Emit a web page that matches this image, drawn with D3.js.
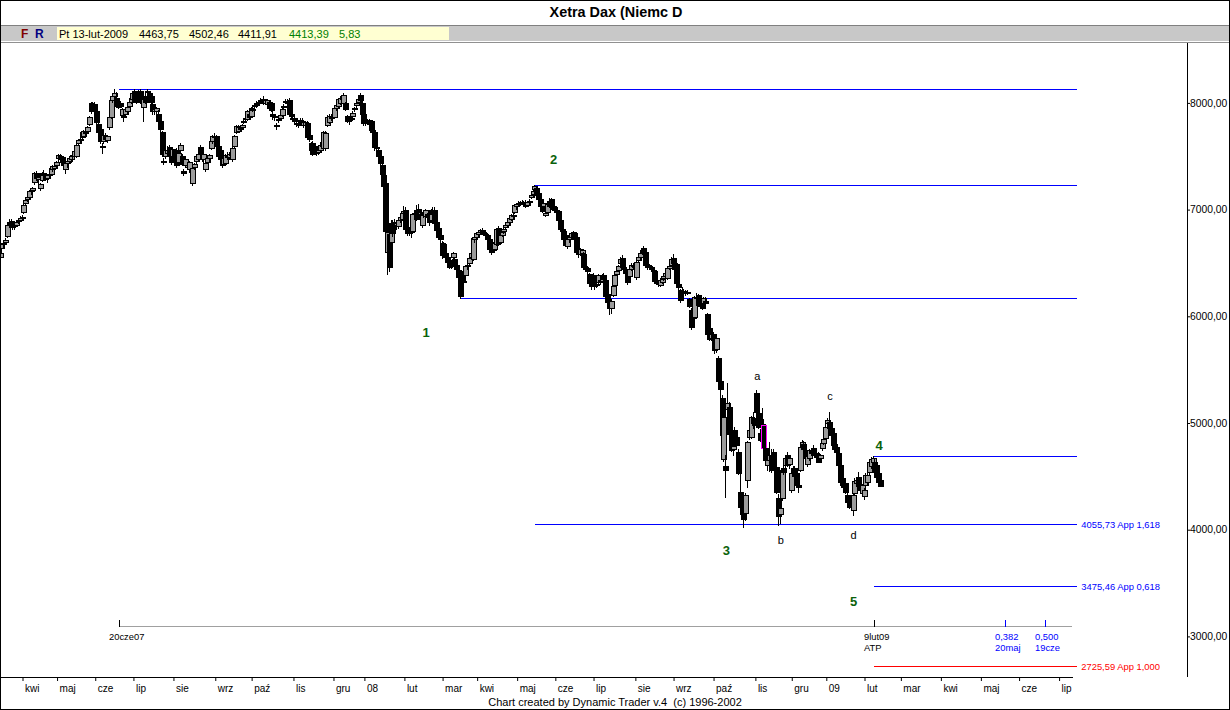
<!DOCTYPE html>
<html><head><meta charset="utf-8">
<script src="https://cdn.jsdelivr.net/npm/d3@7"></script>
<style>
html,body{margin:0;padding:0;background:#fff;}
svg{display:block;font-family:'Liberation Sans',Arial,sans-serif;}
</style></head><body>
<svg id="chart" width="1230" height="710"></svg>
<script>
// ---------- DATA (daily O,H,L,C) ----------
const mar07=[[6560,6610,6530,6590],[6640,6690,6600,6675],[6680,6700,6650,6690],[6700,6735,6680,6715],[6750,6870,6740,6860],[6880,6910,6840,6860],[6890,6910,6840,6850],[6870,6890,6820,6840],[6850,6880,6820,6860],[6860,6900,6850,6885],[6890,6920,6870,6905],[6905,6940,6890,6917]];
const apr07=[[6920,6945,6900,6935],[6975,7050,6965,7045],[7060,7100,7050,7090],[7100,7140,7080,7120],[7120,7180,7110,7170],[7170,7195,7150,7180],[7180,7210,7170,7200],[7255,7350,7240,7340],[7340,7360,7280,7300],[7290,7320,7250,7310],[7200,7250,7180,7240],[7280,7350,7270,7340],[7340,7370,7300,7320],[7330,7345,7280,7290],[7300,7330,7260,7320],[7320,7350,7300,7330],[7330,7400,7320,7390],[7380,7420,7360,7410],[7390,7430,7370,7408]];
const may07=[[7420,7460,7400,7450],[7480,7520,7460,7510],[7500,7520,7460,7470],[7490,7500,7440,7450],[7440,7460,7400,7420],[7380,7450,7340,7440],[7440,7470,7400,7460],[7460,7490,7450,7480],[7470,7510,7450,7500],[7500,7530,7480,7510],[7500,7560,7490,7550],[7500,7620,7490,7610],[7620,7660,7610,7650],[7650,7670,7620,7660],[7680,7740,7670,7730],[7690,7750,7680,7740],[7740,7760,7700,7720],[7735,7780,7720,7770],[7800,7880,7790,7870],[7920,8010,7910,7995],[7990,8010,7920,7930]];
const jun07=[[7990,8010,7900,7920],[7920,7930,7800,7820],[7800,7810,7700,7730],[7760,7780,7620,7640],[7600,7620,7530,7590],[7640,7710,7620,7700],[7690,7720,7650,7660],[7650,7700,7630,7690],[7770,7880,7760,7865],[7870,8040,7860,8030],[8030,8080,8010,8060],[8065,8130,8050,8095],[8050,8100,7960,7975],[8000,8020,7950,7960],[8000,8020,7960,7970],[7885,7950,7870,7940],[7880,7900,7830,7870],[7900,7950,7890,7940],[7920,7970,7910,7960],[7970,8020,7960,8010],[8010,8060,8000,8050]];
const jul07=[[8040,8100,8020,8090],[8110,8130,8010,8020],[8060,8100,8000,8010],[8100,8120,8030,8040],[8110,8130,8000,8010],[8010,8060,7990,8050],[7960,8060,7830,8040],[8060,8090,8000,8010],[8110,8132,8080,8100],[8090,8110,8030,8050],[8060,8070,8000,8010],[7990,8000,7900,7920],[7920,7960,7900,7940],[7920,7960,7900,7950],[7900,7930,7810,7830],[7830,7840,7740,7760],[7730,7740,7500,7520],[7450,7480,7430,7460],[7500,7580,7480,7560],[7530,7600,7520,7560],[7590,7610,7490,7500],[7510,7540,7430,7450]];
const aug07=[[7500,7580,7460,7570],[7560,7570,7430,7450],[7550,7580,7400,7420],[7450,7550,7440,7530],[7560,7620,7540,7610],[7500,7520,7420,7430],[7360,7380,7320,7340],[7420,7480,7400,7470],[7400,7440,7380,7420],[7380,7460,7360,7450],[7350,7380,7320,7360],[7250,7400,7230,7390],[7400,7440,7380,7430],[7460,7520,7440,7500],[7470,7540,7460,7520],[7590,7610,7520,7530],[7520,7540,7460,7480],[7470,7530,7450,7520],[7380,7450,7360,7440],[7450,7500,7440,7480],[7480,7520,7460,7510],[7580,7650,7570,7640],[7640,7700,7620,7690]];
const sep07=[[7690,7720,7660,7680],[7690,7700,7590,7600],[7600,7620,7480,7500],[7560,7600,7450,7470],[7480,7500,7400,7420],[7430,7500,7420,7480],[7440,7520,7430,7510],[7510,7540,7470,7490],[7490,7530,7470,7520],[7510,7550,7490,7540],[7470,7590,7460,7580],[7600,7700,7590,7690],[7730,7790,7720,7780],[7740,7790,7730,7775],[7770,7790,7750,7760],[7770,7800,7760,7790],[7820,7850,7810,7830],[7850,7880,7840,7860],[7850,7930,7840,7920],[7900,7940,7860,7870]];
const oct07=[[7880,7960,7870,7950],[7940,7960,7920,7935],[7980,8000,7960,7970],[8000,8020,7960,7980],[8010,8030,7990,8000],[8030,8050,8000,8010],[8020,8040,8000,8030],[8040,8060,7990,8000],[8000,8040,7990,8030],[7990,8040,7980,8030],[8010,8030,7940,7950],[8000,8010,7920,7930],[7900,7930,7850,7880],[7870,7900,7840,7880],[7790,7810,7760,7790],[7840,7870,7820,7850],[7860,7900,7850,7890],[7890,7950,7880,7940],[7960,7990,7940,7970],[8010,8040,8000,8020],[8020,8040,7990,8000],[8030,8050,7880,7900],[7900,7930,7860,7880]];
const nov07=[[7850,7880,7830,7860],[7860,7870,7810,7830],[7800,7830,7780,7810],[7790,7820,7770,7800],[7840,7860,7800,7810],[7830,7860,7800,7820],[7790,7830,7770,7820],[7790,7830,7770,7820],[7810,7830,7670,7680],[7700,7720,7640,7660],[7560,7630,7530,7620],[7620,7640,7510,7520],[7600,7620,7540,7550],[7590,7600,7510,7530],[7540,7580,7520,7560],[7560,7620,7550,7610],[7600,7640,7580,7630],[7580,7740,7570,7730],[7580,7740,7560,7720],[7790,7890,7780,7870],[7820,7900,7810,7880],[7870,7900,7840,7870]];
const dec07=[[7870,7900,7850,7880],[7870,7960,7860,7950],[7950,7990,7930,7980],[7970,8050,7960,8040],[8000,8060,7990,8050],[8040,8070,8010,8060],[8000,8090,7990,8075],[8000,8010,7930,7945],[7880,7890,7820,7830],[7840,7860,7800,7850],[7850,7880,7830,7860],[7880,7920,7860,7910],[7940,7960,7920,7950],[7980,8000,7960,7995],[8010,8050,8000,8040],[8070,8090,8020,8030],[8000,8020,7880,7900]];
const jan08=[[7900,7920,7790,7810],[7830,7860,7790,7820],[7830,7850,7800,7815],[7840,7850,7780,7800],[7830,7840,7730,7750],[7750,7760,7710,7730],[7730,7740,7560,7590],[7590,7610,7560,7580],[7560,7570,7480,7500],[7500,7510,7430,7440],[7420,7430,7320,7330],[7320,7330,7200,7220],[7250,7300,6780,6800],[6600,6800,6400,6790],[6770,6800,6420,6460],[6700,6900,6650,6870],[6870,6900,6750,6780],[6880,6910,6840,6860],[6860,6890,6820,6870],[6850,6920,6830,6900],[6900,6950,6880,6930],[6910,6980,6900,6970]];
const feb08=[[6970,7030,6950,6990],[7000,7020,6800,6820],[6830,6860,6760,6780],[6820,6840,6760,6780],[6800,6830,6740,6790],[6800,6970,6780,6960],[6960,7000,6930,6970],[7000,7040,6900,6910],[7010,7050,6960,6970],[6960,7000,6930,6980],[6860,6980,6840,6970],[6950,6990,6930,6960],[6940,7010,6920,7000],[6960,6970,6920,6930],[6920,6940,6860,6880],[6900,7010,6890,7000],[7000,7020,6940,6960],[7000,7020,6860,6870],[6880,6900,6800,6810],[6830,6840,6730,6740],[6760,6780,6700,6720]];
const mar08=[[6690,6710,6550,6570],[6680,6700,6560,6580],[6590,6610,6540,6560],[6560,6580,6490,6510],[6500,6520,6450,6460],[6520,6530,6450,6470],[6560,6600,6540,6590],[6540,6550,6480,6490],[6480,6500,6420,6440],[6430,6450,6360,6370],[6360,6380,6168,6190],[6400,6420,6330,6340],[6330,6380,6300,6320],[6390,6480,6380,6470],[6470,6490,6440,6480],[6500,6560,6490,6550],[6560,6600,6540,6590],[6540,6740,6530,6730],[6720,6760,6700,6740]];
const apr08=[[6740,6790,6720,6780],[6770,6800,6750,6790],[6790,6820,6780,6810],[6800,6830,6790,6810],[6790,6800,6760,6770],[6770,6790,6740,6760],[6760,6780,6700,6720],[6720,6740,6610,6630],[6640,6660,6580,6600],[6620,6700,6600,6680],[6630,6700,6610,6690],[6680,6830,6670,6820],[6830,6850,6670,6690],[6700,6780,6680,6760],[6760,6800,6750,6790],[6800,6830,6780,6820],[6840,6870,6830,6860],[6860,6900,6840,6880],[6880,6930,6860,6920],[6910,6960,6900,6950],[6940,6970,6920,6950],[6980,7050,6970,7040]];
const may08=[[7030,7060,7010,7050],[7050,7080,7030,7060],[7060,7080,7040,7070],[7070,7090,7050,7065],[7065,7080,7040,7060],[7070,7090,7020,7030],[7040,7080,7030,7070],[7070,7100,7050,7080],[7120,7150,7110,7140],[7150,7180,7130,7170],[7190,7231,7180,7220],[7200,7220,7130,7140],[7160,7180,7090,7100],[7100,7120,7020,7030],[7060,7080,6980,6990],[7030,7070,7010,7060],[6950,6980,6940,6970],[6980,7060,6970,7050],[7080,7110,7020,7030],[7100,7110,7040,7050],[7030,7040,7000,7010]];
const jun08=[[7020,7040,6990,7000],[7000,7010,6960,6980],[6990,7000,6880,6900],[6900,6910,6800,6820],[6820,6840,6790,6810],[6800,6810,6700,6720],[6760,6780,6660,6670],[6660,6740,6640,6720],[6720,6760,6700,6740],[6740,6790,6720,6780],[6790,6800,6740,6750],[6780,6790,6710,6720],[6740,6750,6580,6600],[6620,6640,6560,6580],[6580,6640,6570,6630],[6590,6630,6560,6620],[6580,6600,6450,6460],[6460,6480,6420,6440],[6450,6470,6400,6420],[6400,6410,6300,6310],[6370,6390,6260,6280]];
const jul08=[[6390,6410,6280,6300],[6300,6330,6260,6280],[6300,6340,6270,6290],[6320,6400,6300,6390],[6330,6360,6300,6340],[6330,6400,6320,6390],[6390,6410,6340,6350],[6340,6350,6180,6190],[6210,6230,6120,6130],[6140,6150,6020,6080],[6080,6160,6030,6140],[6200,6290,6190,6280],[6290,6400,6280,6390],[6400,6440,6390,6420],[6430,6480,6420,6470],[6500,6560,6480,6540],[6550,6570,6440,6460],[6460,6480,6420,6440],[6430,6450,6400,6410],[6400,6420,6300,6320],[6380,6450,6370,6440],[6440,6500,6430,6480],[6470,6500,6450,6480]];
const aug08=[[6480,6500,6440,6460],[6370,6530,6350,6510],[6530,6570,6510,6560],[6560,6600,6540,6590],[6600,6630,6580,6620],[6640,6660,6590,6610],[6600,6610,6460,6480],[6480,6500,6440,6460],[6460,6490,6450,6470],[6460,6480,6420,6440],[6430,6450,6400,6420],[6420,6430,6320,6330],[6340,6350,6300,6310],[6320,6330,6280,6300],[6290,6360,6280,6340],[6320,6360,6310,6350],[6360,6390,6340,6380],[6380,6420,6370,6410],[6360,6460,6350,6450],[6450,6480,6440,6470],[6480,6560,6470,6540]];
const sep08=[[6550,6580,6490,6500],[6500,6520,6420,6440],[6490,6500,6290,6310],[6300,6330,6250,6270],[6250,6260,6130,6150],[6240,6270,6200,6230],[6240,6260,6200,6220],[6230,6250,6200,6220],[6230,6250,6210,6230],[6160,6170,6090,6100],[6060,6080,5880,5900],[5980,6070,5960,5990],[5990,6190,5980,6180],[6180,6220,6150,6170],[6200,6210,6100,6110],[6110,6130,6080,6100],[6140,6150,6070,6080],[6120,6180,6100,6170],[6140,6180,6090,6120],[6020,6030,5810,5830],[5890,5910,5780,5790],[5800,5880,5780,5830]];
const oct08=[[5830,5850,5760,5806],[5800,5810,5660,5680],[5690,5810,5670,5797],[5613,5630,5340,5390],[5390,5420,5230,5320],[5238,5260,4880,4891],[4660,5080,4640,5060],[4600,4700,4310,4560],[5130,5379,4950,5190],[5150,5200,4880,4900],[4889,4910,4740,4750],[4760,4820,4700,4785],[4930,4960,4790,4800],[4870,4900,4780,4797],[4732,4760,4520,4535],[4356,4563,4200,4216],[4300,4330,4100,4150],[4200,4280,4028,4100],[4160,4340,4090,4328],[4469,4830,4400,4826],[4870,4960,4850,4930],[4872,5070,4860,5060],[5050,5100,4950,5000]];
const nov08=[[4980,5030,4900,4990],[5285,5310,5090,5100],[5097,5120,4950,4960],[4910,4940,4830,4844],[4990,5144,4900,4985],[4985,5040,4760,4769],[4769,4790,4640,4657],[4610,4700,4560,4657],[4650,4820,4550,4700],[4704,4760,4540,4563],[4732,4760,4580,4590],[4590,4620,4420,4560],[4590,4610,4340,4356],[4300,4330,4047,4131],[4150,4280,4060,4200],[4300,4570,4280,4563],[4582,4610,4520,4544],[4610,4690,4580,4676],[4704,4730,4600,4610],[4620,4700,4580,4669]];
const dec08=[[4375,4560,4350,4535],[4535,4600,4500,4582],[4580,4600,4480,4500],[4535,4560,4410,4422],[4420,4480,4350,4400],[4563,4790,4550,4779],[4797,4840,4760,4826],[4800,4830,4730,4760],[4750,4780,4660,4676],[4620,4720,4600,4690],[4676,4760,4650,4750],[4740,4770,4700,4720],[4770,4790,4710,4723],[4720,4740,4680,4700],[4723,4740,4670,4685],[4704,4730,4630,4638],[4676,4710,4640,4704],[4770,4830,4750,4816],[4816,4870,4800,4850]];
const jan09=[[4863,4990,4850,4966],[5004,5050,4980,5032],[5013,5107,4940,4957],[4957,4970,4880,4891],[4910,4930,4790,4797],[4800,4820,4740,4760],[4779,4790,4720,4732],[4723,4740,4600,4610],[4610,4620,4440,4450],[4488,4510,4400,4422],[4430,4470,4370,4400],[4441,4460,4340,4356],[4328,4340,4250,4263],[4300,4310,4200,4216],[4250,4280,4180,4230],[4188,4340,4140,4328],[4340,4480,4330,4460],[4440,4480,4410,4469],[4497,4540,4410,4422],[4422,4440,4360,4375],[4347,4430,4330,4422]];
const feb09=[[4319,4390,4290,4375],[4422,4530,4400,4516],[4450,4540,4430,4516],[4544,4650,4520,4638],[4600,4680,4580,4660],[4638,4695,4610,4675],[4638,4660,4530,4544],[4610,4630,4480,4497],[4535,4560,4430,4450],[4463.75,4502.46,4411.91,4413.39]];
const monthsData=[mar07,apr07,may07,jun07,jul07,aug07,sep07,oct07,nov07,dec07,jan08,feb08,mar08,apr08,may08,jun08,jul08,aug08,sep08,oct08,nov08,dec08,jan09,feb09];

const firstDay="2007-03-15", lastCalendarDay="2009-07-31";
const holidays=["2007-04-06","2007-04-09","2007-05-01","2007-05-28","2007-12-24","2007-12-25","2007-12-26","2007-12-31","2008-01-01","2008-03-21","2008-03-24","2008-05-01","2008-12-24","2008-12-25","2008-12-26","2008-12-31","2009-01-01"];
const highlightDates=["2008-11-10"];

const monthNames=["sty","lut","mar","kwi","maj","cze","lip","sie","wrz","paź","lis","gru"];
const priceTicks=[3000,4000,5000,6000,7000,8000];

const levelValues=[8132,7231,6168,4695,4055.73,3475.46,2725.59];
const levelStarts=["2007-06-20","2008-05-16","2008-03-17","2009-02-09","2008-05-16","2009-02-09","2009-02-09"];
const levelLabels=["","","","","4055,73 App 1,618","3475,46 App 0,618","2725,59 App 1,000"];
const levelColors=["#0000ff","#0000ff","#0000ff","#0000ff","#0000ff","#0000ff","#ff0000"];
const levelEnd="2009-07-15";

const timeLineStart="2007-06-20", timeLineEnd="2009-07-10";
const markerDates=["2007-06-20","2009-02-09","2009-05-20","2009-06-19"];
const markerTop=["20cze07","9lut09","0,382","0,500"];
const markerBottom=["","ATP","20maj","19cze"];
const markerColors=["#000000","#000000","#0000ff","#0000ff"];

const waveLabels=["1","2","3","4","5"];
const waveDates=["2008-02-19","2008-05-30","2008-10-10","2009-02-12","2009-01-23"];
const waveValues=[5853,7470,3808,4798,3332];
const subLabels=["a","b","c","d"];
const subDates=["2008-11-04","2008-11-21","2009-01-06","2009-01-23"];
const subValues=[5440,3903,5253,3941];

const infoTexts=["Pt 13-lut-2009","4463,75","4502,46","4411,91","4413,39","5,83"];
const infoColors=["#000","#000","#000","#000","#008000","#008000"];

// ---------- CALENDAR ----------
const hol=new Set(holidays);
const cal=[];
for(let d=new Date(firstDay+"T00:00:00Z"); d<=new Date(lastCalendarDay+"T00:00:00Z"); d.setUTCDate(d.getUTCDate()+1)){
  const wd=d.getUTCDay(); if(wd===0||wd===6) continue;
  const s=d.toISOString().slice(0,10); if(hol.has(s)) continue;
  cal.push(s);
}
const idx=s=>cal.indexOf(s);

// ---------- SCALES ----------
const x=d3.scaleLinear().domain([idx("2007-04-02"),idx("2009-02-02")]).range([22.5,864.5]);
const y=d3.scaleLinear().domain([4000,8000]).range([529.7,102.9]);

const svg=d3.select("#chart");
const W=1230,H=710;

// ---------- HEADER ----------
svg.append("rect").attr("x",0).attr("y",0).attr("width",W).attr("height",H).attr("fill","#fff");
svg.append("text").attr("x",616).attr("y",17).attr("text-anchor","middle")
  .attr("font-size",14.4).attr("font-weight","bold").text("Xetra Dax (Niemc D");
svg.append("line").attr("x1",0).attr("x2",W).attr("y1",25.5).attr("y2",25.5).attr("stroke","#808080");
svg.append("rect").attr("x",0).attr("y",26).attr("width",W).attr("height",15).attr("fill","#c8c8c8");
svg.append("line").attr("x1",0).attr("x2",W).attr("y1",41.5).attr("y2",41.5).attr("stroke","#ffffff");
svg.append("line").attr("x1",0).attr("x2",W).attr("y1",42.5).attr("y2",42.5).attr("stroke","#909090");
svg.append("rect").attr("x",57).attr("y",27).attr("width",392).attr("height",13).attr("fill","#ffffd2");
svg.append("text").attr("x",21).attr("y",38).attr("font-size",12).attr("font-weight","bold").attr("fill","#800000").text("F");
svg.append("text").attr("x",35).attr("y",38).attr("font-size",12).attr("font-weight","bold").attr("fill","#000080").text("R");
const infoX=[59,139,189,238,289,339];
infoTexts.forEach((t,i)=>svg.append("text").attr("x",infoX[i]).attr("y",38).attr("font-size",11).attr("fill",infoColors[i]).text(t));

// ---------- PLOT ----------
svg.append("clipPath").attr("id","plotclip").append("rect").attr("x",1).attr("y",43).attr("width",1186).attr("height",634);
const plot=svg.append("g").attr("clip-path","url(#plotclip)").attr("shape-rendering","crispEdges");

const candles=monthsData.flat().map((c,i)=>({date:cal[i],i,o:c[0],h:c[1],l:c[2],c:c[3]}));
const hl=new Set(highlightDates);

// level lines
levelValues.forEach((v,k)=>{
  const yy=Math.round(y(v))+0.5;
  plot.append("line").attr("x1",x(idx(levelStarts[k]))).attr("x2",x(idx(levelEnd)))
    .attr("y1",yy).attr("y2",yy).attr("stroke",levelColors[k]).attr("stroke-width",1);
  if(levelLabels[k]) svg.append("text").attr("x",x(idx(levelEnd))+4).attr("y",yy+3.5)
    .attr("font-size",9.4).attr("fill",levelColors[k]).text(levelLabels[k]);
});

// candles
const cg=plot.append("g");
candles.forEach(d=>{
  const cx=Math.round(x(d.i));
  const top=Math.round(y(Math.max(d.o,d.c))), bot=Math.round(y(Math.min(d.o,d.c)));
  cg.append("line").attr("x1",cx-0.5).attr("x2",cx-0.5)
    .attr("y1",Math.round(y(d.h))).attr("y2",Math.round(y(d.l))+1).attr("stroke","#000");
  const up=d.c>=d.o;
  cg.append("rect").attr("x",cx-2.5).attr("y",top+0.5).attr("width",5).attr("height",Math.max(1,bot-top))
    .attr("fill",up?"#9c9c9c":"#000").attr("stroke",hl.has(d.date)?"#ff00ff":"#000").attr("stroke-width",1);
});

// time projection line
const tl=svg.append("g").attr("shape-rendering","crispEdges");
tl.append("line").attr("x1",x(idx(timeLineStart))).attr("x2",x(idx(timeLineEnd))).attr("y1",626.5).attr("y2",626.5).attr("stroke","#a0a0a0");
markerDates.forEach((m,k)=>{
  const mx=Math.round(x(idx(m)))+0.5;
  tl.append("line").attr("x1",mx).attr("x2",mx).attr("y1",620).attr("y2",627).attr("stroke",markerColors[k]);
  svg.append("text").attr("x",mx-10.5).attr("y",640).attr("font-size",9.4).attr("fill",markerColors[k]).text(markerTop[k]);
  if(markerBottom[k]) svg.append("text").attr("x",mx-10.5).attr("y",651).attr("font-size",9.4).attr("fill",markerColors[k]).text(markerBottom[k]);
});

// wave labels
waveLabels.forEach((t,k)=>svg.append("text").attr("x",x(idx(waveDates[k]))).attr("y",y(waveValues[k])+5)
  .attr("text-anchor","middle").attr("font-size",13).attr("font-weight","bold").attr("fill","#0b620b").text(t));
subLabels.forEach((t,k)=>svg.append("text").attr("x",x(idx(subDates[k]))).attr("y",y(subValues[k])+3.5)
  .attr("text-anchor","middle").attr("font-size",11).attr("fill","#000").text(t));

// ---------- PRICE AXIS ----------
const ya=svg.append("g").attr("transform","translate(1187,0)")
  .call(d3.axisRight(y).tickValues(priceTicks).tickSize(3).tickFormat(d=>d+",00"));
ya.select(".domain").remove();
ya.selectAll("text").attr("x",3).attr("font-size",10.3).attr("font-family","'Liberation Sans',Arial,sans-serif").attr("fill","#000");
ya.selectAll("line").attr("stroke","#000");
svg.append("line").attr("x1",1187.5).attr("x2",1187.5).attr("y1",43).attr("y2",677).attr("stroke","#000");

// ---------- TIME AXIS ----------
const monthStarts=[];
cal.forEach((s,i)=>{ if(i>0 && s.slice(0,7)!==cal[i-1].slice(0,7)) monthStarts.push(i); });
const xa=svg.append("g").attr("transform","translate(0,677)")
  .call(d3.axisBottom(x).tickValues(monthStarts).tickSize(4).tickFormat(i=>{
    const s=cal[i]; const m=+s.slice(5,7)-1; return m===0? s.slice(2,4) : monthNames[m];
  }));
xa.select(".domain").remove();
xa.selectAll("text").attr("text-anchor","start").attr("dx",2).attr("y",8).attr("dy","0.71em")
  .attr("font-size",10).attr("font-family","'Liberation Sans',Arial,sans-serif").attr("fill","#000");
xa.selectAll("line").attr("stroke","#000");
svg.append("line").attr("x1",0).attr("x2",1073).attr("y1",677.5).attr("y2",677.5).attr("stroke","#000");

svg.append("text").attr("x",615).attr("y",706).attr("text-anchor","middle").attr("font-size",11)
  .attr("xml:space","preserve").text("Chart created by Dynamic Trader v.4  (c) 1996-2002");

// outer border
svg.append("rect").attr("x",0.5).attr("y",0.5).attr("width",W-1).attr("height",H-1)
  .attr("fill","none").attr("stroke","#000");
</script>
</body></html>
